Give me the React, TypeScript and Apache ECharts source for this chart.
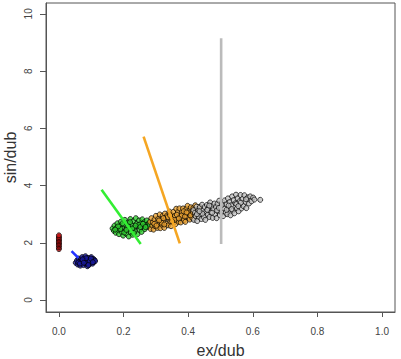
import React, { useEffect, useRef } from "react";
import * as echarts from "echarts";

// Tick positions / labels
const xTicks = [0, 0.2, 0.4, 0.6, 0.8, 1.0];
const yTicks = [0, 2, 4, 6, 8, 10];

// Groups: points (ex/dub, sin/dub)
const redPts: number[][] = [
  [0, 1.78], [0, 1.84], [0, 1.9], [0, 1.95], [0, 2.0], [0, 2.05], [0, 2.1], [0, 2.15], [0, 2.2], [0, 2.26],
];

const bluePts: number[][] = [
  [0.052, 1.30], [0.056, 1.38], [0.058, 1.24], [0.061, 1.45], [0.063, 1.33], [0.066, 1.20], [0.068, 1.41],
  [0.070, 1.28], [0.072, 1.50], [0.074, 1.35], [0.076, 1.22], [0.078, 1.44], [0.080, 1.31], [0.082, 1.53],
  [0.084, 1.26], [0.086, 1.39], [0.088, 1.18], [0.090, 1.47], [0.092, 1.34], [0.094, 1.24], [0.096, 1.42],
  [0.098, 1.30], [0.100, 1.50], [0.102, 1.37], [0.104, 1.27], [0.106, 1.44], [0.108, 1.33], [0.110, 1.40],
  [0.112, 1.36], [0.069, 1.36], [0.079, 1.38], [0.087, 1.29], [0.095, 1.36], [0.060, 1.31], [0.084, 1.46],
  [0.065, 1.27], [0.073, 1.42], [0.091, 1.22], [0.099, 1.45], [0.105, 1.32], [0.077, 1.30],
];

const greenPts: number[][] = [
  [0.166, 2.50], [0.170, 2.42], [0.172, 2.60], [0.176, 2.35], [0.178, 2.52], [0.181, 2.68], [0.184, 2.44],
  [0.186, 2.30], [0.189, 2.58], [0.192, 2.74], [0.194, 2.38], [0.196, 2.50], [0.199, 2.25], [0.201, 2.64],
  [0.204, 2.80], [0.206, 2.43], [0.208, 2.32], [0.211, 2.56], [0.213, 2.70], [0.216, 2.22], [0.218, 2.47],
  [0.221, 2.83], [0.223, 2.36], [0.225, 2.62], [0.228, 2.28], [0.230, 2.75], [0.233, 2.52], [0.235, 2.40],
  [0.238, 2.86], [0.240, 2.66], [0.243, 2.30], [0.245, 2.57], [0.248, 2.78], [0.250, 2.45], [0.253, 2.68],
  [0.256, 2.38], [0.258, 2.82], [0.261, 2.55], [0.264, 2.72], [0.266, 2.48], [0.269, 2.63], [0.272, 2.78],
  [0.275, 2.56], [0.278, 2.68], [0.281, 2.62], [0.190, 2.48], [0.227, 2.50], [0.214, 2.60], [0.247, 2.62],
  [0.202, 2.36], [0.183, 2.57], [0.197, 2.68], [0.209, 2.45], [0.220, 2.72], [0.232, 2.34], [0.237, 2.60],
  [0.252, 2.55], [0.260, 2.66], [0.268, 2.55], [0.174, 2.46],
];

const orangePts: number[][] = [
  [0.282, 2.73], [0.284, 2.48], [0.286, 2.86], [0.289, 2.60], [0.291, 2.71], [0.293, 2.46], [0.296, 2.82],
  [0.298, 2.58], [0.300, 2.94], [0.303, 2.70], [0.305, 2.52], [0.307, 2.83], [0.310, 2.64], [0.312, 2.99],
  [0.314, 2.51], [0.317, 2.79], [0.319, 2.63], [0.321, 2.94], [0.324, 2.75], [0.326, 2.52], [0.328, 3.02],
  [0.331, 2.87], [0.333, 2.66], [0.335, 2.95], [0.338, 2.61], [0.340, 2.84], [0.342, 3.09], [0.345, 2.74],
  [0.347, 2.58], [0.349, 2.97], [0.352, 2.82], [0.354, 3.08], [0.356, 2.70], [0.359, 2.94], [0.361, 2.65],
  [0.363, 3.19], [0.366, 2.84], [0.368, 3.07], [0.370, 2.73], [0.373, 3.20], [0.375, 2.93], [0.377, 2.71],
  [0.380, 3.07], [0.382, 2.86], [0.384, 3.20], [0.387, 2.79], [0.389, 3.03], [0.391, 2.73], [0.394, 3.18],
  [0.396, 2.94], [0.398, 3.29], [0.401, 2.87], [0.403, 3.11], [0.405, 2.81], [0.408, 3.24], [0.410, 3.02],
  [0.413, 2.86], [0.416, 3.21], [0.419, 2.98], [0.422, 3.31], [0.425, 2.94], [0.428, 3.16], [0.432, 3.04],
  [0.436, 3.26], [0.295, 2.66], [0.318, 2.70], [0.337, 2.90], [0.358, 2.80], [0.379, 2.95], [0.400, 3.05],
  [0.420, 3.12], [0.310, 2.78], [0.350, 2.75], [0.390, 2.92], [0.302, 2.60], [0.323, 2.86], [0.344, 2.96],
  [0.365, 2.98], [0.386, 3.10], [0.407, 2.96], [0.326, 2.64], [0.371, 2.85], [0.395, 3.06], [0.414, 3.08],
];

const grayPts: number[][] = [
  [0.416, 3.14], [0.418, 2.80], [0.421, 3.05], [0.423, 2.93], [0.426, 3.26], [0.428, 2.76], [0.431, 3.12],
  [0.433, 2.91], [0.436, 3.24], [0.438, 3.01], [0.441, 2.83], [0.443, 3.33], [0.446, 3.12], [0.448, 2.90],
  [0.451, 3.25], [0.453, 2.80], [0.456, 3.09], [0.458, 3.32], [0.461, 2.99], [0.463, 3.22], [0.466, 2.90],
  [0.468, 3.41], [0.471, 3.06], [0.473, 3.28], [0.476, 2.87], [0.478, 3.17], [0.481, 3.37], [0.483, 3.00],
  [0.486, 3.25], [0.488, 2.86], [0.491, 3.36], [0.493, 3.10], [0.496, 3.47], [0.498, 2.97], [0.501, 3.26],
  [0.503, 3.06], [0.506, 3.41], [0.508, 2.93], [0.511, 3.20], [0.513, 3.48], [0.516, 3.05], [0.518, 3.34],
  [0.521, 3.00], [0.523, 3.55], [0.526, 3.19], [0.528, 3.42], [0.531, 2.96], [0.533, 3.31], [0.536, 3.62],
  [0.538, 3.12], [0.541, 3.49], [0.543, 3.03], [0.546, 3.38], [0.548, 3.68], [0.551, 3.21], [0.553, 3.55],
  [0.556, 3.10], [0.559, 3.45], [0.562, 3.67], [0.565, 3.20], [0.568, 3.53], [0.571, 3.28], [0.574, 3.66],
  [0.577, 3.43], [0.580, 3.21], [0.584, 3.58], [0.588, 3.37], [0.592, 3.62], [0.596, 3.45], [0.601, 3.58],
  [0.605, 3.51], [0.623, 3.50], [0.427, 3.00], [0.444, 3.02], [0.459, 3.15], [0.474, 3.05], [0.489, 3.13],
  [0.504, 3.32], [0.519, 3.15], [0.534, 3.18], [0.549, 3.35], [0.563, 3.40], [0.579, 3.52], [0.435, 3.10],
  [0.465, 3.30], [0.495, 3.22], [0.525, 3.30], [0.555, 3.28],
];

// Fitted axis segments for each group
const blueLine: number[][] = [[0.039, 1.71], [0.060, 1.47]];
const greenLine: number[][] = [[0.132, 3.85], [0.253, 1.96]];
const orangeLine: number[][] = [[0.262, 5.71], [0.374, 1.98]];
const grayLine: number[][] = [[0.502, 9.15], [0.502, 1.96]];

const FONT = "'Liberation Sans', Arial, sans-serif";

function pointSeries(data: number[][], fill: string) {
  return {
    type: "scatter",
    data,
    symbol: "circle",
    symbolSize: 5,
    itemStyle: { color: fill, borderColor: "#000", borderWidth: 0.9 },
    silent: true,
  };
}

function lineSeries(data: number[][], color: string) {
  return {
    type: "line",
    data,
    symbol: "none",
    lineStyle: { color, width: 2.6 },
    silent: true,
  };
}

export default function App() {
  const ref = useRef<HTMLDivElement>(null);

  useEffect(() => {
    if (!ref.current) return;
    const chart = echarts.init(ref.current, undefined, { renderer: "svg" });
    chart.setOption({
      animation: false,
      backgroundColor: "#fff",
      grid: {
        left: 46,
        top: 3,
        right: 6,
        bottom: 47,
        outerBoundsMode: "none",
        containLabel: false,
        show: true,
        borderColor: "#555",
        borderWidth: 1,
      },
      xAxis: {
        type: "value",
        min: -0.04,
        max: 1.04,
        name: "ex/dub",
        nameLocation: "middle",
        nameGap: 30,
        nameMoveOverlap: false,
        nameTextStyle: { fontFamily: FONT, fontSize: 16, color: "#333", lineHeight: 16 },
        axisLine: { show: true, onZero: false, lineStyle: { color: "#555" } },
        axisTick: { show: true, customValues: xTicks, length: 5, lineStyle: { color: "#555" } },
        axisLabel: {
          customValues: xTicks,
          formatter: (v: number) => v.toFixed(1),
          fontFamily: FONT,
          fontSize: 10,
          color: "#444",
          margin: 14,
        },
        splitLine: { show: false },
      },
      yAxis: {
        type: "value",
        min: -0.42,
        max: 10.38,
        name: "sin/dub",
        nameLocation: "middle",
        nameRotate: 90,
        nameGap: 28,
        nameMoveOverlap: false,
        nameTextStyle: { fontFamily: FONT, fontSize: 16, color: "#333", lineHeight: 16 },
        axisLine: { show: true, onZero: false, lineStyle: { color: "#555" } },
        axisTick: { show: true, customValues: yTicks, length: 6, lineStyle: { color: "#555" } },
        axisLabel: {
          customValues: yTicks,
          formatter: (v: number) => String(v),
          rotate: 90,
          fontFamily: FONT,
          fontSize: 10,
          color: "#444",
          margin: 13,
        },
        splitLine: { show: false },
      },
      series: [
        pointSeries(redPts, "#cc1111"),
        pointSeries(bluePts, "#1a1aa0"),
        pointSeries(greenPts, "#2ecc2e"),
        pointSeries(orangePts, "#e8a030"),
        pointSeries(grayPts, "#c0c0c0"),
        lineSeries(blueLine, "#2233ff"),
        lineSeries(greenLine, "#33ee33"),
        lineSeries(orangeLine, "#f5a623"),
        lineSeries(grayLine, "#bbbbbb"),
      ],
    });
    return () => chart.dispose();
  }, []);

  return (
    <div
      ref={ref}
      style={{ position: "absolute", left: 0, top: 0, width: 401, height: 359 }}
    />
  );
}
